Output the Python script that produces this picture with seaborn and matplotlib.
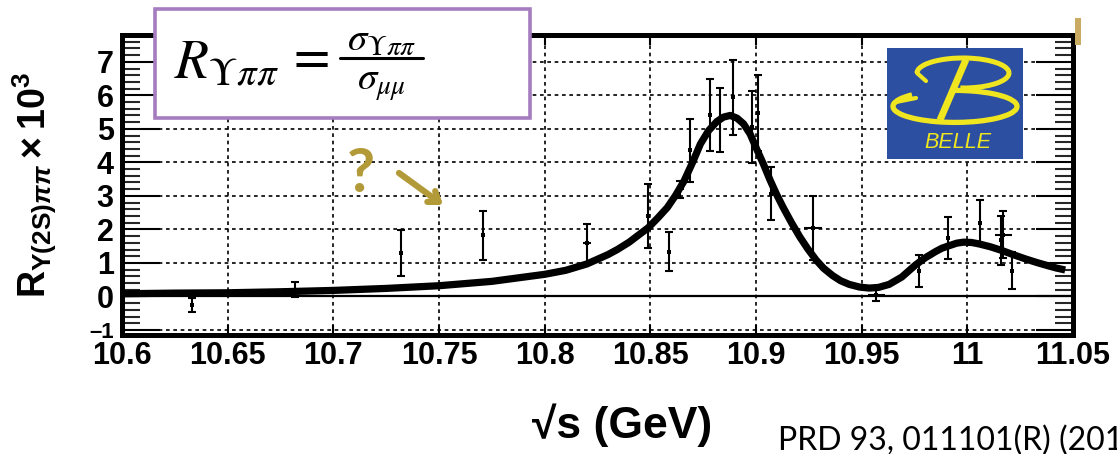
import matplotlib
matplotlib.use('Agg')
import matplotlib.pyplot as plt
import seaborn as sns
from matplotlib.patches import Rectangle, Arc
from matplotlib.lines import Line2D
from matplotlib.ticker import MultipleLocator, FixedLocator

# ---------------- data ----------------
pt_x = [10.633, 10.682, 10.732, 10.771, 10.820, 10.849, 10.859, 10.864, 10.869,
        10.878, 10.883, 10.889, 10.898, 10.901, 10.907, 10.927, 10.957, 10.977,
        10.991, 11.006, 11.016, 11.017, 11.021]
pt_y = [-0.25, 0.20, 1.30, 1.82, 1.59, 2.39, 1.34, 3.20, 4.36,
        5.42, 5.27, 5.94, 5.06, 5.47, 3.07, 2.05, 0.05, 0.76,
        1.74, 2.20, 1.67, 1.84, 0.77]
pt_yerr = [0.20, 0.22, 0.69, 0.73, 0.58, 0.95, 0.57, 0.25, 0.94,
           1.07, 0.95, 1.12, 1.08, 1.14, 0.79, 0.96, 0.20, 0.48,
           0.62, 0.68, 0.73, 0.70, 0.55]
pt_xerr = [0, 0, 0, 0, 0.002, 0, 0, 0.002, 0,
           0, 0, 0, 0, 0, 0, 0.0043, 0.004, 0,
           0, 0, 0, 0.0041, 0]

fit_x = [10.600, 10.625, 10.650, 10.675, 10.700, 10.725, 10.750, 10.775, 10.800,
         10.810, 10.820, 10.830, 10.8344, 10.840, 10.849, 10.8535, 10.858, 10.862,
         10.866, 10.870, 10.8737, 10.8776, 10.8815, 10.8846, 10.8878, 10.8910,
         10.8941, 10.8972, 10.9003, 10.9035, 10.9066, 10.9097, 10.9129, 10.9168,
         10.9207, 10.9245, 10.9284, 10.9320, 10.9363, 10.9400, 10.9441, 10.9490,
         10.9536, 10.9580, 10.9630, 10.9690, 10.9755, 10.9800, 10.9850, 10.9880,
         10.9912, 10.9950, 10.9983, 11.0020, 11.0054, 11.0110, 11.0164, 11.0220,
         11.0275, 11.0330, 11.0385, 11.0420, 11.0463]
fit_y = [0.08, 0.10, 0.11, 0.14, 0.18, 0.24, 0.32, 0.45, 0.66,
         0.78, 0.97, 1.25, 1.40, 1.62, 2.05, 2.34, 2.65, 3.02,
         3.45, 4.00, 4.55, 4.95, 5.22, 5.35, 5.40, 5.32,
         5.15, 4.85, 4.40, 3.95, 3.48, 3.05, 2.65, 2.20,
         1.78, 1.42, 1.09, 0.84, 0.62, 0.47, 0.36, 0.28,
         0.25, 0.27, 0.36, 0.58, 0.94, 1.15, 1.34, 1.44,
         1.51, 1.59, 1.62, 1.61, 1.57, 1.48, 1.37, 1.24,
         1.12, 1.01, 0.91, 0.85, 0.79]

x_ticks = [10.6, 10.65, 10.7, 10.75, 10.8, 10.85, 10.9, 10.95, 11.0, 11.05]
x_tick_labels = ['10.6', '10.65', '10.7', '10.75', '10.8', '10.85', '10.9',
                 '10.95', '11', '11.05']
y_ticks = [-1, 0, 1, 2, 3, 4, 5, 6, 7]
y_tick_labels = ['\u20131', '0', '1', '2', '3', '4', '5', '6', '7']

# ---------------- style ----------------
W, H = 1117, 454
sns.set_theme(style='white')
plt.rcParams['font.family'] = ['Liberation Sans', 'DejaVu Sans']
plt.rcParams['mathtext.fontset'] = 'custom'
plt.rcParams['mathtext.rm'] = 'Liberation Sans:bold'
plt.rcParams['mathtext.bf'] = 'Liberation Sans:bold'
plt.rcParams['mathtext.it'] = 'Liberation Sans:italic:bold'
plt.rcParams['mathtext.sf'] = 'Liberation Sans:bold'

GOLD = '#b39a38'
PURPLE = '#a57cbf'
BLUE = '#2c4fa1'
YELLOW = '#f0e620'

fig = plt.figure(figsize=(W / 100, H / 100), dpi=100)
fig.patch.set_facecolor('white')
ax = fig.add_axes([122 / W, 1 - 335 / H, 951 / W, 300 / H])
ax.set_facecolor('white')

# grid + zero line
ax.set_axisbelow(True)
ax.grid(True, which='major', color='black', lw=1.2, linestyle=(0, (2.2, 2.2)))
ax.axhline(0, color='black', lw=1.6, zorder=1)

# fit curve
sns.lineplot(x=fit_x, y=fit_y, ax=ax, color='black', lw=5.2, zorder=3,
             solid_joinstyle='round', solid_capstyle='butt')

# data points
ax.errorbar(pt_x, pt_y, yerr=pt_yerr, fmt='none', ecolor='black',
            elinewidth=1.5, capsize=3, capthick=1.5, zorder=4)
ax.errorbar(pt_x, pt_y, xerr=pt_xerr, fmt='none', ecolor='black',
            elinewidth=1.5, capsize=0, zorder=4)
sns.scatterplot(x=pt_x, y=pt_y, ax=ax, marker='s', s=7, color='black',
                linewidth=0, zorder=5)

ax.set_xlim(10.6, 11.05)
ax.set_ylim(-1.15, 7.8)
ax.set_xlabel('')
ax.set_ylabel('')

ax.xaxis.set_major_locator(FixedLocator(x_ticks))
ax.set_xticklabels(x_tick_labels)
ax.yaxis.set_major_locator(FixedLocator(y_ticks))
ax.set_yticklabels(y_tick_labels)
ax.yaxis.set_minor_locator(MultipleLocator(0.2))

ax.tick_params(axis='x', which='major', direction='in', length=7, width=1.5,
               top=True, bottom=True, labelsize=22, pad=4, colors='black')
ax.tick_params(axis='y', which='major', direction='in', length=27, width=1.5,
               left=True, right=True, labelsize=22, pad=6, colors='black')
ax.tick_params(axis='y', which='minor', direction='in', length=13, width=1.5,
               left=True, right=True)
for lab in ax.get_xticklabels() + ax.get_yticklabels():
    lab.set_fontweight('bold')
ax.get_yticklabels()[0].set_fontsize(16)

for s in ax.spines.values():
    s.set_visible(True)
    s.set_color('black')
    s.set_linewidth(3.6)

# axis titles
fig.text(35 / W, 1 - 185 / H,
         r'$\mathbf{R}_{\Upsilon\mathbf{(2S)}\pi\pi}\times\mathbf{10}^{\mathbf{3}}$',
         rotation=90, ha='center', va='center', fontsize=27, color='black',
         math_fontfamily='custom')
fig.text(622 / W, 1 - 425 / H, '\u221as (GeV)', ha='center', va='center',
         fontsize=32, fontweight='bold', color='black',
         family=['Liberation Sans', 'DejaVu Sans'])
fig.text(778 / W, 1 - 441 / H, 'PRD 93, 011101(R) (2016)', ha='left',
         va='center', fontsize=23, color='black', family=['Lato', 'DejaVu Sans'])

# formula box
fig.add_artist(Rectangle((155 / W, 1 - 118 / H), 375 / W, 109 / H,
                         transform=fig.transFigure, facecolor='white',
                         edgecolor=PURPLE, lw=2.6, zorder=10))
fig.text(174 / W, 1 - 64 / H, r'$R_{\Upsilon\pi\pi}$', ha='left', va='center',
         fontsize=40, color='black', math_fontfamily='stix', zorder=11)
fig.text(308 / W, 1 - 58 / H, r'$=$', ha='center', va='center',
         fontsize=38, color='black', math_fontfamily='stix', zorder=11)
fig.text(382 / W, 1 - 40 / H, r'$\sigma_{\Upsilon\pi\pi}$', ha='center',
         va='center', fontsize=28, color='black', math_fontfamily='stix', zorder=11)
fig.text(381 / W, 1 - 85 / H, r'$\sigma_{\mu\mu}$', ha='center',
         va='center', fontsize=28, color='black', math_fontfamily='stix', zorder=11)
fig.add_artist(Line2D([340 / W, 423 / W], [1 - 58 / H, 1 - 58 / H],
                      transform=fig.transFigure, color='black', lw=2.2, zorder=11))

# question mark and arrow
fig.text(361 / W, 1 - 174 / H, '?', ha='center', va='center', fontsize=44,
         fontweight='bold', color=GOLD, family=['Lato', 'DejaVu Sans'], zorder=10)
ax.annotate('', xy=(443, H - 205), xytext=(399, H - 173),
            xycoords='figure pixels', textcoords='figure pixels',
            arrowprops=dict(arrowstyle='->,head_length=0.55,head_width=0.4',
                            lw=4.5, color=GOLD, shrinkA=0, shrinkB=0),
            annotation_clip=False, zorder=10)

# tan bar top-right
fig.add_artist(Rectangle((1075 / W, 1 - 45 / H), 6 / W, 27 / H,
                         transform=fig.transFigure, facecolor='#c9ab62',
                         edgecolor='none', zorder=10))

# Belle logo
lg = fig.add_axes([887 / W, 1 - 159 / H, 136 / W, 111 / H])
lg.set_zorder(6)
lg.set_facecolor(BLUE)
lg.set_xlim(0, 136)
lg.set_ylim(0, 111)
lg.set_xticks([])
lg.set_yticks([])
for s in lg.spines.values():
    s.set_visible(False)
lg.add_patch(Arc((76, 86), 92, 30, theta1=-100, theta2=180, lw=3.6, color=YELLOW))
lg.add_patch(Arc((68, 52.6), 124, 32, theta1=165, theta2=455, lw=3.8, color=YELLOW))
lg.plot([30, 39], [86, 78], color=YELLOW, lw=3.0, solid_capstyle='round')
lg.plot([7.6, 29], [56.7, 61], color=YELLOW, lw=3.0, solid_capstyle='round')
lg.plot([79, 53], [99.5, 39], color=YELLOW, lw=5.0, solid_capstyle='butt')
lg.text(71, 16, 'BELLE', color=YELLOW, fontsize=15.5, style='italic',
        ha='center', va='center', family=['Liberation Sans', 'DejaVu Sans'])

fig.savefig('out.png', dpi=100)
